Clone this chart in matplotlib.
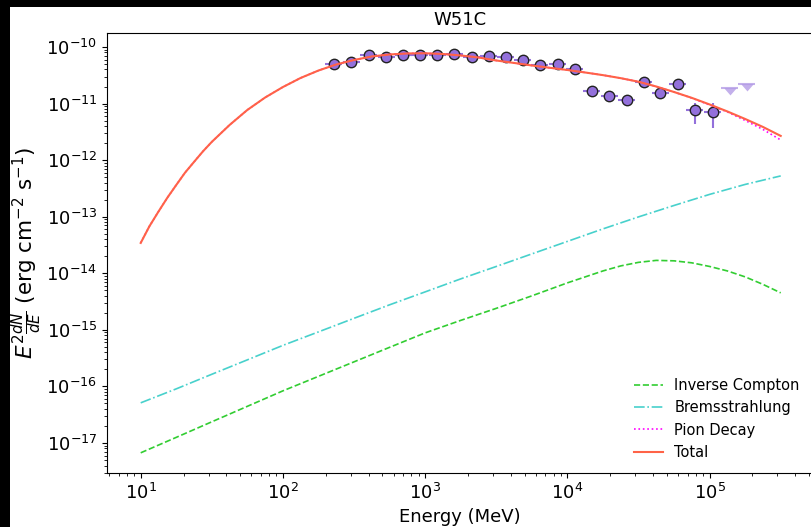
import matplotlib
matplotlib.use("Agg")
import matplotlib.pyplot as plt
import numpy as np
from matplotlib.patches import Rectangle

# ---- Fermi-LAT spectral points (MeV, erg cm^-2 s^-1) ----
energy = [227, 303, 401, 531, 700, 916, 1216, 1600, 2118, 2805, 3697, 4867,
          6412, 8550, 11250, 14830, 19770, 26050, 34450, 45150, 59580,
          78750, 104900]
energy_lo = [198, 264, 349, 463, 610, 798, 1059, 1394, 1845, 2443, 3220, 4240,
             5585, 7448, 9800, 12918, 17221, 22692, 30009, 39330, 51899,
             68598, 91376]
energy_hi = [261, 348, 460, 610, 804, 1052, 1396, 1837, 2431, 3220, 4244, 5587,
             7361, 9815, 12915, 17025, 22696, 29905, 39549, 51832, 68398,
             90405, 120425]
flux = [4.95e-11, 5.50e-11, 7.13e-11, 6.58e-11, 7.31e-11, 7.31e-11, 7.31e-11,
        7.43e-11, 6.58e-11, 6.85e-11, 6.58e-11, 5.89e-11, 4.75e-11, 4.95e-11,
        4.04e-11, 1.69e-11, 1.38e-11, 1.16e-11, 2.38e-11, 1.54e-11, 2.25e-11,
        7.62e-12, 7.02e-12]
flux_err_lo = [0.40e-11, 0.40e-11, 0.45e-11, 0.40e-11, 0.40e-11, 0.40e-11,
               0.40e-11, 0.40e-11, 0.40e-11, 0.40e-11, 0.40e-11, 0.40e-11,
               0.40e-11, 0.40e-11, 0.40e-11, 0.25e-11, 0.22e-11, 0.20e-11,
               0.35e-11, 0.30e-11, 0.40e-11, 3.26e-12, 3.36e-12]
flux_err_hi = [0.40e-11, 0.40e-11, 0.45e-11, 0.40e-11, 0.40e-11, 0.40e-11,
               0.40e-11, 0.40e-11, 0.40e-11, 0.40e-11, 0.40e-11, 0.40e-11,
               0.40e-11, 0.40e-11, 0.40e-11, 0.25e-11, 0.22e-11, 0.20e-11,
               0.35e-11, 0.30e-11, 0.40e-11, 2.78e-12, 3.08e-12]

# upper limits
ul_energy = [139000, 182300]
ul_energy_lo = [121080, 158800]
ul_energy_hi = [159570, 209280]
ul_flux = [1.89e-11, 2.22e-11]

# ---- model components ----
hadronic_energy = [10, 11.5, 13.3, 15.4, 17.8, 20.5, 23.7, 27.4, 31.6, 42.2,
                   56.2, 75.0, 100, 133, 178, 237, 316, 422, 562, 750, 1000,
                   1334, 1778, 2371, 3162, 4217, 5623, 7499, 10000, 13335,
                   17783, 23714, 31623, 42170, 56234, 74989, 100000, 133352,
                   177828, 237137, 316228]
total = [3.44e-14, 6.74e-14, 1.22e-13, 2.17e-13, 3.65e-13, 6.01e-13, 9.29e-13,
         1.43e-12, 2.10e-12, 4.19e-12, 7.71e-12, 1.28e-11, 1.96e-11, 2.83e-11,
         3.84e-11, 4.91e-11, 5.89e-11, 6.80e-11, 7.37e-11, 7.68e-11, 7.74e-11,
         7.52e-11, 7.08e-11, 6.52e-11, 5.77e-11, 5.22e-11, 4.71e-11, 4.29e-11,
         3.92e-11, 3.54e-11, 3.18e-11, 2.81e-11, 2.43e-11, 2.00e-11, 1.60e-11,
         1.26e-11, 9.64e-12, 7.25e-12, 5.34e-12, 3.86e-12, 2.68e-12]
pion_decay = [3.44e-14, 6.74e-14, 1.22e-13, 2.17e-13, 3.65e-13, 6.01e-13,
              9.29e-13, 1.43e-12, 2.10e-12, 4.19e-12, 7.71e-12, 1.28e-11,
              1.96e-11, 2.83e-11, 3.84e-11, 4.91e-11, 5.89e-11, 6.80e-11,
              7.37e-11, 7.68e-11, 7.74e-11, 7.52e-11, 7.08e-11, 6.52e-11,
              5.77e-11, 5.22e-11, 4.71e-11, 4.29e-11, 3.92e-11, 3.54e-11,
              3.18e-11, 2.81e-11, 2.43e-11, 2.00e-11, 1.60e-11, 1.25e-11,
              9.45e-12, 7.11e-12, 5.03e-12, 3.49e-12, 2.27e-12]

brems_energy = [10, 17.8, 31.6, 56.2, 100, 178, 316, 562, 1000, 1778, 3162,
                5623, 10000, 17783, 31623, 56234, 100000, 177828, 316228]
bremsstrahlung = [5.13e-17, 9.07e-17, 1.64e-16, 2.95e-16, 5.32e-16, 9.22e-16,
                  1.60e-15, 2.77e-15, 4.69e-15, 7.96e-15, 1.32e-14, 2.20e-14,
                  3.66e-14, 6.09e-14, 9.92e-14, 1.58e-13, 2.48e-13, 3.72e-13,
                  5.26e-13]

ic_energy = [10, 17.8, 31.6, 56.2, 100, 178, 316, 562, 1000, 1778, 3162,
             5623, 10000, 17783, 23714, 31623, 42170, 56234, 74989, 100000,
             133352, 177828, 237137, 316228]
inverse_compton = [6.71e-18, 1.26e-17, 2.37e-17, 4.45e-17, 8.36e-17, 1.51e-16,
                   2.72e-16, 4.91e-16, 8.85e-16, 1.47e-15, 2.40e-15, 3.99e-15,
                   6.77e-15, 1.10e-14, 1.35e-14, 1.56e-14, 1.69e-14, 1.66e-14,
                   1.53e-14, 1.32e-14, 1.10e-14, 8.64e-15, 6.37e-15, 4.51e-15]

W, H = 811, 527
fig = plt.figure(figsize=(W / 100, H / 100), dpi=100)
fig.patch.set_facecolor("white")
ax = fig.add_axes([107 / W, (H - 473) / H, (813 - 107) / W, (473 - 33) / H])
ax.set_xscale("log")
ax.set_yscale("log")

e = np.array(energy)
ax.errorbar(energy, flux,
            xerr=[e - np.array(energy_lo), np.array(energy_hi) - e],
            yerr=[flux_err_lo, flux_err_hi],
            fmt="o", ms=7.5, mfc="mediumpurple", mec="#222222", mew=1.0,
            ecolor="mediumpurple", elinewidth=1.5, capsize=0, zorder=3)

ue = np.array(ul_energy)
ax.errorbar(ul_energy, ul_flux,
            xerr=[ue - np.array(ul_energy_lo), np.array(ul_energy_hi) - ue],
            fmt="none", ecolor="mediumpurple", elinewidth=1.5, alpha=0.55,
            zorder=3)
ul_marker = [(-1, 0), (1, 0), (0, -1.15), (-1, 0)]
ax.plot(ul_energy, ul_flux, ls="none", marker=ul_marker, ms=10,
        color="mediumpurple", mew=0, alpha=0.55, zorder=3)

ax.plot(ic_energy, inverse_compton, color="limegreen", ls="--", lw=1.2,
        label="Inverse Compton", zorder=4)
ax.plot(brems_energy, bremsstrahlung, color="mediumturquoise", ls="-.", lw=1.2,
        label="Bremsstrahlung", zorder=4)
ax.plot(hadronic_energy, pion_decay, color="magenta", ls=":", lw=1.2,
        label="Pion Decay", zorder=4)
ax.plot(hadronic_energy, total, color="tomato", ls="-", lw=1.5,
        label="Total", zorder=5)

ax.set_xlim(10 ** 0.763, 10 ** 5.727)
ax.set_ylim(10 ** -17.53, 10 ** -9.753)

ax.set_title("W51C", fontsize=13)
ax.set_xlabel("Energy (MeV)", fontsize=13)
ax.set_ylabel(r"$E^2\frac{dN}{dE}$ (erg cm$^{-2}$ s$^{-1}$)", fontsize=15.5,
              labelpad=2)
ax.tick_params(which="major", labelsize=13)
ax.legend(loc="lower right", frameon=False, fontsize=10.5)

# dark border strips along the left and top edges
fig.add_artist(Rectangle((0, 0), 10 / W, 1, transform=fig.transFigure,
                         facecolor="black", edgecolor="none", zorder=20))
fig.add_artist(Rectangle((0, 1 - 7 / H), 1, 7 / H, transform=fig.transFigure,
                         facecolor="black", edgecolor="none", zorder=20))

fig.savefig("out.png", dpi=100)
